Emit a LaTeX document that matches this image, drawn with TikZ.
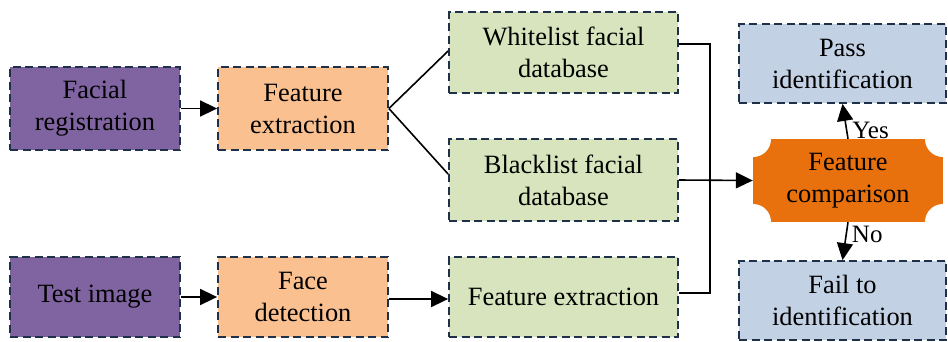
\documentclass[tikz,border=0pt]{standalone}
\usepackage{fontspec}
\setmainfont{Liberation Serif}
\usetikzlibrary{arrows.meta,calc}
\definecolor{purp}{HTML}{8064A2}
\definecolor{peach}{HTML}{FAC090}
\definecolor{olive}{HTML}{D7E4BD}
\definecolor{bluegray}{HTML}{C3D1E4}
\definecolor{orng}{HTML}{E8710E}
\definecolor{navy}{HTML}{1F3049}
\tikzset{
  box/.style={draw=navy, line width=1.8pt, dash pattern=on 8pt off 4.5pt, align=center,
    font=\fontsize{26.4}{32}\selectfont, inner sep=0pt},
  arr/.style={line width=1.6pt, -{Triangle[length=17pt,width=16pt]}},
  ln/.style={line width=1.6pt},
  lab/.style={font=\fontsize{25}{30}\selectfont, inner sep=2pt}
}
\begin{document}
\begin{tikzpicture}[x=1pt,y=-1pt]
\useasboundingbox (0,0) rectangle (948,341);
\node[box, fill=purp, minimum width=170pt, minimum height=83pt] (reg) at (95,108.5) {Facial\\registration};
\node[box, fill=peach, minimum width=170pt, minimum height=83pt] (fe1) at (303,108.5) {Feature\\extraction};
\node[box, fill=olive, minimum width=229pt, minimum height=81pt] (wl) at (563.5,52.5) {Whitelist facial\\database};
\node[box, fill=olive, minimum width=229pt, minimum height=82pt] (bl) at (563.5,180) {Blacklist facial\\database};
\node[box, fill=olive, minimum width=229pt, minimum height=80pt] (fe2) at (563.5,297) {Feature extraction};
\node[box, fill=purp, minimum width=170pt, minimum height=80pt] (test) at (95,297) {Test image};
\node[box, fill=peach, minimum width=170pt, minimum height=80pt] (fd) at (303,297) {Face\\detection};
\node[box, fill=bluegray, minimum width=207pt, minimum height=79pt] (pass) at (842.5,63.5) {Pass\\identification};
\node[box, fill=bluegray, minimum width=207pt, minimum height=79pt] (fail) at (842.5,300.5) {Fail to\\identification};
\node[align=center, font=\fontsize{26.4}{32}\selectfont, inner sep=0pt,
  minimum width=190pt, minimum height=83pt,
  path picture={
    \fill[orng] (path picture bounding box.south west) rectangle (path picture bounding box.north east);
    \fill[white] (path picture bounding box.south west) circle[radius=18pt]
                 (path picture bounding box.south east) circle[radius=18pt]
                 (path picture bounding box.north west) circle[radius=18pt]
                 (path picture bounding box.north east) circle[radius=18pt];
  }] (cmp) at (848,180.5) {Feature\\comparison};
\coordinate (b1) at (710,44);
\coordinate (b2) at (710,293);
\draw[arr] (reg.east) -- (fe1.west);
\draw[ln] (fe1.east) -- ($(wl.west)+(0,-1.5)$);
\draw[ln] (fe1.east) -- ($(bl.west)+(0,-6)$);
\draw[arr] (test.east) -- (fd.west);
\draw[arr] ($(fd.east)+(0,2)$) -- ($(fe2.west)+(0,2)$);
\draw[ln] (wl.east |- b1) -- (b1) -- (b2) -- (fe2.east |- b2);
\draw[arr] (bl.east) -- (cmp.west);
\draw[arr] (cmp.north) -- node[lab, right, pos=0.25, xshift=3pt] {Yes} (pass.south);
\draw[arr] (cmp.south) -- node[lab, right, pos=0.33, xshift=3pt] {No} (fail.north);
\end{tikzpicture}
\end{document}
